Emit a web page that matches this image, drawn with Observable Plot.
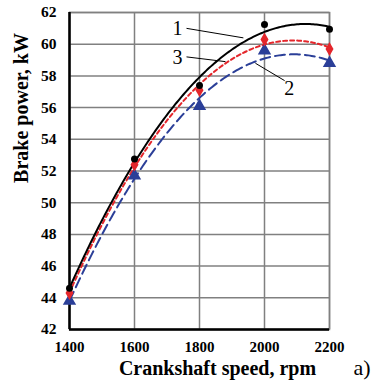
<!DOCTYPE html>
<html><head><meta charset="utf-8">
<script src="https://cdn.jsdelivr.net/npm/d3@7"></script>
<script src="https://cdn.jsdelivr.net/npm/@observablehq/plot@0.6"></script>
<style>body{margin:0;background:#fff}</style>
</head><body><div id="chart"></div>
<script>
const speeds = [1400, 1600, 1800, 2000, 2200];
const power1 = [44.6, 52.75, 57.4, 61.25, 60.95];
const power3 = [44.3, 52.4, 57.1, 60.3, 59.7];
const power2 = [43.8, 51.7, 56.1, 59.6, 58.8];
const xTicks = [1400, 1600, 1800, 2000, 2200];
const yTicks = [42, 44, 46, 48, 50, 52, 54, 56, 58, 60, 62];

// quadratic least-squares trendline, as in the source figure
function quadFit(xs, ys) {
  const x0 = 1800, s = 200;
  const t = xs.map(x => (x - x0) / s);
  let S = [0,0,0,0,0], T = [0,0,0];
  t.forEach((v,i) => { for (let k=0;k<5;k++) S[k]+=v**k; for (let k=0;k<3;k++) T[k]+=ys[i]*v**k; });
  const M = [[S[0],S[1],S[2],T[0]],[S[1],S[2],S[3],T[1]],[S[2],S[3],S[4],T[2]]];
  for (let i=0;i<3;i++){ for (let j=i+1;j<3;j++){ const f=M[j][i]/M[i][i]; for(let k=i;k<4;k++) M[j][k]-=f*M[i][k]; } }
  const c=[0,0,0];
  for (let i=2;i>=0;i--){ let v=M[i][3]; for(let k=i+1;k<3;k++) v-=M[i][k]*c[k]; c[i]=v/M[i][i]; }
  return x => { const u=(x-x0)/s; return c[0]+c[1]*u+c[2]*u*u; };
}
const grid = d3.range(speeds[0], speeds[speeds.length-1] + 0.1, 5);
const f1 = quadFit(speeds, power1), f2 = quadFit(speeds, power2), f3 = quadFit(speeds, power3);
const pts = (ys) => speeds.map((x,i) => ({x, y: ys[i]}));
const crv = (f) => grid.map(x => ({x, y: f(x)}));

const RED = "#e4262b", BLUE = "#2b3f98";
const font = "Liberation Serif, Times New Roman, serif";

const chart = Plot.plot({
  width: 381, height: 387,
  marginLeft: 69, marginRight: 52, marginTop: 12, marginBottom: 58,
  style: {fontFamily: font, background: "#fff", overflow: "visible"},
  x: {domain: [1400, 2200]},
  y: {domain: [42, 62]},
  marks: [
    Plot.gridX(xTicks, {stroke: "#808080", strokeOpacity: 1, strokeWidth: 1.5}),
    Plot.gridY(yTicks, {stroke: "#808080", strokeOpacity: 1, strokeWidth: 1.5}),
    Plot.frame({stroke: "#808080", strokeWidth: 1.5}),
    Plot.axisX(xTicks, {tickSize: 0, tickPadding: 12, fontSize: 15, fontWeight: "bold", fontFamily: font, label: null, tickFormat: d => String(d)}),
    Plot.axisY(yTicks, {tickSize: 0, tickPadding: 13, fontSize: 15.5, fontWeight: "bold", fontFamily: font, label: null}),
    Plot.ruleX([1400], {stroke: "#000", strokeWidth: 2.5}),
    Plot.ruleY([42], {stroke: "#000", strokeWidth: 2.5}),
    Plot.line(crv(f2), {x: "x", y: "y", stroke: BLUE, strokeWidth: 2, strokeDasharray: "10,5"}),
    Plot.line(crv(f3), {x: "x", y: "y", stroke: RED, strokeWidth: 2, strokeDasharray: "4,3"}),
    Plot.line(crv(f1), {x: "x", y: "y", stroke: "#000", strokeWidth: 2}),
    Plot.dot(pts(power2), {x: "x", y: "y", symbol: "triangle", r: 4, fill: BLUE, stroke: BLUE}),
    Plot.dot(pts(power3), {x: "x", y: "y", symbol: "diamond", r: 3.3, fill: RED, stroke: RED}),
    Plot.dot(pts(power1), {x: "x", y: "y", symbol: "circle", r: 3.5, fill: "#000"}),
    // leader lines and series labels
    Plot.link([{x1: 1760, y1: 61.0, x2: 1935, y2: 60.4}, {x1: 1760, y1: 59.2, x2: 1880, y2: 58.9}, {x1: 1972, y1: 58.8, x2: 2062, y2: 57.7}],
      {x1: "x1", y1: "y1", x2: "x2", y2: "y2", stroke: "#000", strokeWidth: 1}),
    Plot.text([{x: 1732, y: 61.0, t: "1"}, {x: 1732, y: 59.15, t: "3"}, {x: 2076, y: 57.2, t: "2"}],
      {x: "x", y: "y", text: "t", fontSize: 20, fill: "#000", fontFamily: font}),
    Plot.text(["Crankshaft speed, rpm"], {frameAnchor: "bottom", dx: 18, dy: 39, text: d => d, fontSize: 20, fontWeight: "bold", fontFamily: font, textAnchor: "middle", lineAnchor: "middle"}),
    Plot.text(["Brake power, kW"], {frameAnchor: "left", dx: -48, dy: -63, rotate: -90, text: d => d, fontSize: 20, fontWeight: "bold", fontFamily: font, textAnchor: "middle", lineAnchor: "middle"}),
    Plot.text(["a)"], {frameAnchor: "bottom-right", dx: 24, dy: 38, text: d => d, fontSize: 22, fontFamily: font, textAnchor: "start", lineAnchor: "middle"})
  ]
});
document.getElementById("chart").append(chart);
</script>
</body></html>
